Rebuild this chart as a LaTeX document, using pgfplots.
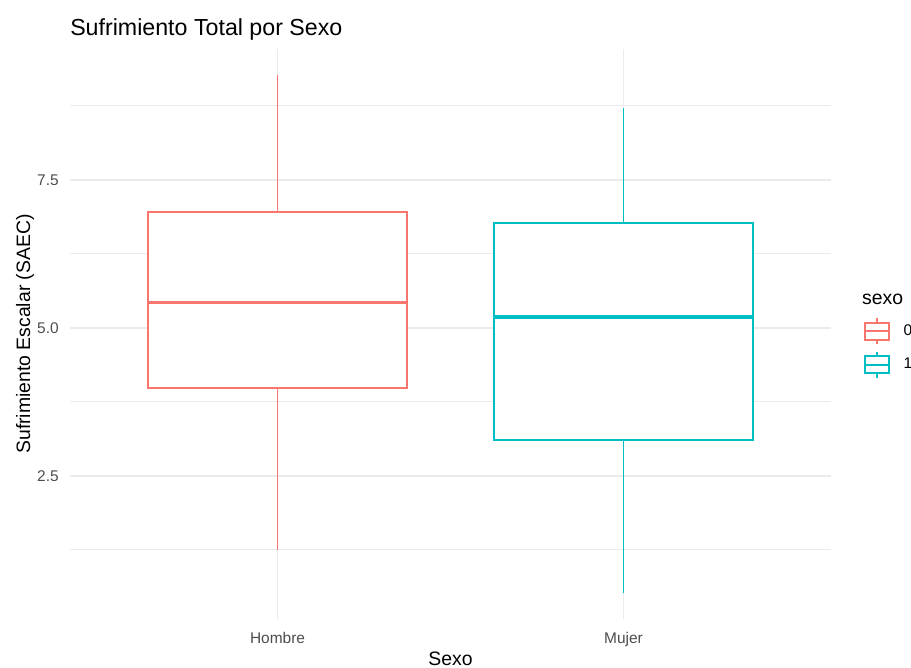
\documentclass[border=0pt]{standalone}
\usepackage{fontspec}
\setmainfont{Liberation Sans}
\usepackage{pgfplots}
\pgfplotsset{compat=1.18}
\definecolor{c0}{HTML}{F8766D}
\definecolor{c1}{HTML}{00BFC4}
\definecolor{gridc}{HTML}{EBEBEB}
\definecolor{tickc}{HTML}{4D4D4D}
% box statistics: position, lower whisker, Q1, median, Q3, upper whisker (half width 0.375)
% Hombre: 1, 1.25, 3.99, 5.43, 6.96, 9.27
% Mujer:  2, 0.52, 3.10, 5.18, 6.77, 8.72
\begin{document}
\begin{tikzpicture}
\useasboundingbox (0pt,0pt) rectangle (683.25pt,501pt);
\begin{axis}[
 at={(52.5pt,36.75pt)}, anchor=south west,
 scale only axis, width=570.75pt, height=427.5pt,
 xmin=0.4, xmax=2.6, ymin=0.08, ymax=9.71,
 xtick={1,2}, xticklabels={Hombre,Mujer},
 ytick={2.5,5,7.5}, yticklabels={2.5,5.0,7.5},
 minor ytick={1.25,3.75,6.25,8.75},
 ymajorgrids, yminorgrids,
 major grid style={draw=gridc, line width=1.35pt},
 minor grid style={draw=gridc, line width=0.7pt},
 axis line style={draw=none},
 major tick length=0pt, minor tick length=0pt,
 tick style={draw=none},
 /pgf/number format/assume math mode=true,
 ticklabel style={font=\fontsize{11.6}{13}\selectfont, text=tickc},
 xticklabel style={anchor=base, inner sep=0pt, yshift=-18pt},
 yticklabel style={anchor=east, inner sep=0pt, xshift=-8.25pt},
 title={Sufrimiento Total por Sexo},
 title style={at={(0,1)}, anchor=base west, inner sep=0pt, yshift=4pt, font=\fontsize{17.4}{20}\selectfont},
 xlabel={Sexo},
 xlabel style={at={(0.5,0)}, anchor=base, inner sep=0pt, yshift=-34.5pt, font=\fontsize{14.55}{16}\selectfont},
 ylabel={Sufrimiento Escalar (SAEC)},
 ylabel style={at={(-0.059,0.5)}, anchor=center, inner sep=0pt, font=\fontsize{14.55}{16}\selectfont},
 legend style={at={(1.0434,0.4754)}, anchor=west, draw=none, fill=none, inner sep=0pt, outer sep=0pt,
   font=\fontsize{11.6}{13}\selectfont, row sep=4pt, column sep=10.25pt, nodes={inner sep=0pt}},
 legend cell align=left,
 clip=false,
 every axis plot/.append style={no markers, line join=miter},
]
% vertical major grid lines at the two categories (drawn first, below the boxes)
\addplot[forget plot, draw=gridc, line width=1.35pt] coordinates {(1,0.08) (1,9.71)};
\addplot[forget plot, draw=gridc, line width=1.35pt] coordinates {(2,0.08) (2,9.71)};
% Hombre (sexo 0)
\addplot[forget plot, draw=c0, line width=1.41pt] coordinates {(1,6.96) (1,9.27)};
\addplot[forget plot, draw=c0, line width=1.41pt] coordinates {(1,1.25) (1,3.99)};
\addplot[forget plot, draw=c0, fill=white, line width=1.41pt] coordinates {(0.625,3.99) (1.375,3.99) (1.375,6.96) (0.625,6.96)} -- cycle;
\addplot[forget plot, draw=c0, line width=2.6pt] coordinates {(0.625,5.43) (1.375,5.43)};
% Mujer (sexo 1)
\addplot[forget plot, draw=c1, line width=1.41pt] coordinates {(2,6.77) (2,8.72)};
\addplot[forget plot, draw=c1, line width=1.41pt] coordinates {(2,0.52) (2,3.10)};
\addplot[forget plot, draw=c1, fill=white, line width=1.41pt] coordinates {(1.625,3.10) (2.375,3.10) (2.375,6.77) (1.625,6.77)} -- cycle;
\addplot[forget plot, draw=c1, line width=2.6pt] coordinates {(1.625,5.18) (2.375,5.18)};
\addlegendimage{draw=c0, line width=1.41pt, legend image code/.code={
  \draw[fill=white] (0pt,-6.15pt) rectangle (18pt,6.15pt);
  \draw (0pt,0pt) -- (18pt,0pt);
  \draw (9pt,6.15pt) -- (9pt,9.75pt);
  \draw (9pt,-6.15pt) -- (9pt,-9.75pt);}}
\addlegendentry{0}
\addlegendimage{draw=c1, line width=1.41pt, legend image code/.code={
  \draw[fill=white] (0pt,-6.15pt) rectangle (18pt,6.15pt);
  \draw (0pt,0pt) -- (18pt,0pt);
  \draw (9pt,6.15pt) -- (9pt,9.75pt);
  \draw (9pt,-6.15pt) -- (9pt,-9.75pt);}}
\addlegendentry{1}
\node[anchor=west, inner sep=0pt, font=\fontsize{14.55}{16}\selectfont] at (rel axis cs:1.0407,0.5605) {sexo};
\end{axis}
\end{tikzpicture}
\end{document}
